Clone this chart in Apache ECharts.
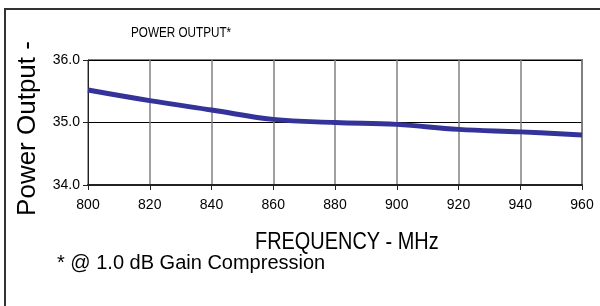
<!DOCTYPE html>
<html>
<head>
<meta charset="utf-8">
<script src="https://cdn.jsdelivr.net/npm/echarts@6/dist/echarts.min.js"></script>
<style>
  html, body { margin: 0; padding: 0; background: #fff; }
  #chart { width: 600px; height: 306px; }
</style>
</head>
<body>
<div id="chart"></div>
<script>
// frequency (MHz) and power output
const freqs = [800, 820, 840, 860, 880, 900, 920, 940, 960]
const power = [35.52, 35.35, 35.2, 35.05, 35.0, 34.97, 34.89, 34.85, 34.8]

const chart = echarts.init(document.getElementById('chart'))
const font = '"Liberation Sans", Arial, sans-serif'

const option = {
  animation: false,
  grid: { left: 88, right: 18, top: 60, bottom: 121 },
  xAxis: {
    type: 'value',
    min: 800,
    max: 960,
    interval: 20,
    axisLine: { show: true, lineStyle: { color: '#222', width: 2 } },
    axisTick: { show: true, length: 5, inside: false, lineStyle: { color: '#222', width: 1 } },
    axisLabel: { color: '#000', fontFamily: font, fontSize: 14, margin: 13 },
    splitLine: { show: true, lineStyle: { color: '#808080', width: 1.5 } }
  },
  yAxis: {
    type: 'value',
    min: 34,
    max: 36,
    interval: 1,
    name: 'Power Output -',
    nameLocation: 'middle',
    nameGap: 47,
    nameTextStyle: { color: '#000', fontFamily: font, fontSize: 26, padding: [0, 12, 0, 0] },
    axisLine: { show: true, lineStyle: { color: '#222', width: 1 } },
    axisTick: { show: true, length: 5, lineStyle: { color: '#222' } },
    axisLabel: {
      color: '#000', fontFamily: font, fontSize: 14, margin: 8,
      formatter: v => v.toFixed(1)
    },
    splitLine: { show: true, lineStyle: { color: '#000', width: 1 } }
  },
  graphic: [
    {
      type: 'rect',
      shape: { x: 5, y: 9, width: 620, height: 320 },
      style: { fill: 'none', stroke: '#333', lineWidth: 2 }
    },
    {
      // top and right edge of the plot box
      type: 'polyline',
      shape: { points: [[88, 60], [582, 60], [582, 185]] },
      style: { fill: 'none', stroke: '#808080', lineWidth: 2 }
    },
    {
      type: 'text',
      x: 131, y: 33, scaleX: 0.78,
      style: { text: 'POWER OUTPUT*', fill: '#000', font: '15px ' + font, verticalAlign: 'middle' }
    },
    {
      type: 'text',
      x: 255, y: 242, scaleX: 0.83,
      style: { text: 'FREQUENCY - MHz', fill: '#000', font: '24px ' + font, verticalAlign: 'middle' }
    },
    {
      type: 'text',
      x: 57, y: 263,
      style: { text: '* @ 1.0 dB Gain Compression', fill: '#000', font: '20px ' + font, verticalAlign: 'middle' }
    }
  ],
  series: [
    {
      type: 'line',
      data: freqs.map((f, i) => [f, power[i]]),
      smooth: 0.4,
      symbol: 'none',
      lineStyle: { color: '#333399', width: 5 }
    }
  ]
}

chart.setOption(option)
</script>
</body>
</html>
